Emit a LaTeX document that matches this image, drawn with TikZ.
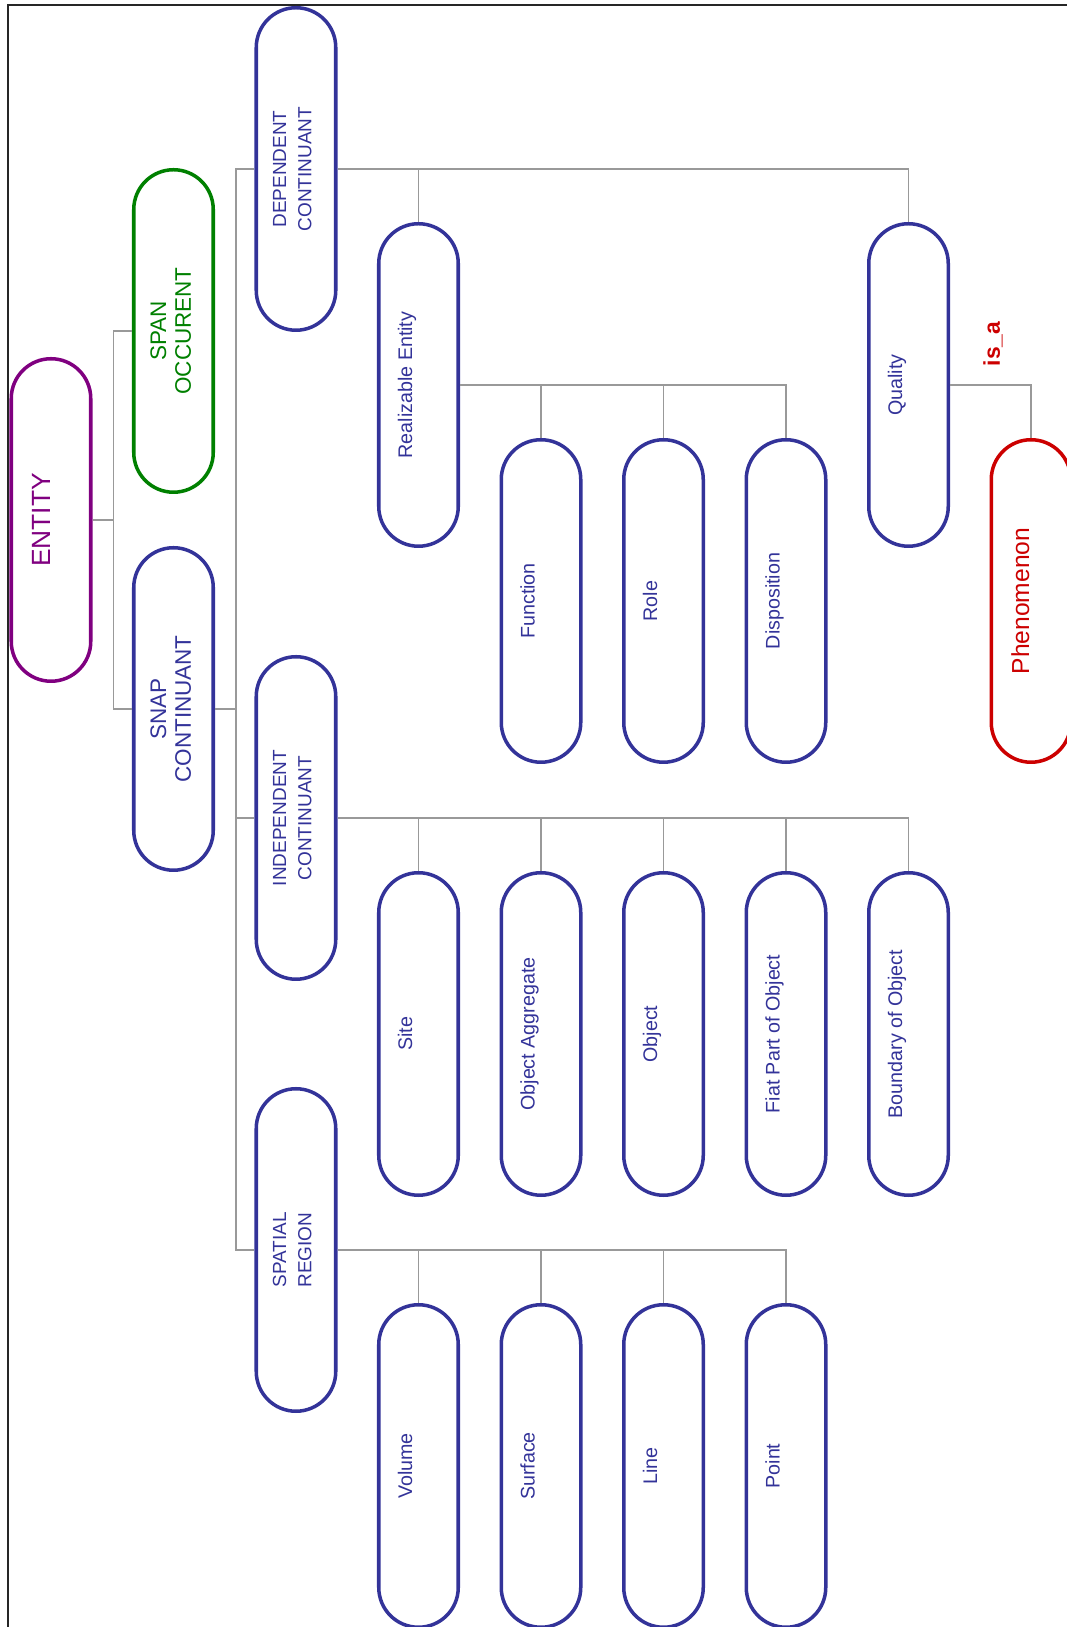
\documentclass[tikz,border=0pt]{standalone}
\usepackage{fontspec}
\setmainfont{Liberation Sans}
\usepackage{graphicx}
\definecolor{ontoblue}{HTML}{333399}
\definecolor{ontogreen}{HTML}{008000}
\definecolor{ontopurple}{HTML}{800080}
\definecolor{ontored}{HTML}{CC0000}
\definecolor{linkgray}{HTML}{999999}

% rotated text for the pills, optional raise in the text frame
\newcommand{\vlabel}[2][0pt]{\rotatebox{90}{\raisebox{#1}[\height][\depth]{\begin{tabular}{@{}c@{}}#2\end{tabular}}}}

\begin{document}
\begin{tikzpicture}[
  pill/.style={rectangle, rounded corners=0.795cm, draw=#1, text=#1, fill=white,
    line width=2pt, minimum width=1.59cm, minimum height=6.45cm, inner sep=0pt},
  pill/.default=ontoblue,
  topbox/.style={pill=#1, font=\fontsize{12.8}{14.2}\selectfont},
  topbox/.default=ontoblue,
  branch/.style={pill, font=\fontsize{10.8}{14.4}\selectfont},
  leaf/.style={pill, font=\fontsize{11.2}{13.4}\selectfont},
  link/.style={draw=linkgray, line width=0.9pt}
]

% Page size and frame
\useasboundingbox (0,0) rectangle (21.34,32.54);
\clip (0,0) rectangle (21.34,32.54);
\draw[black!85, line width=0.9pt] (0.16,-1) rectangle (23,32.44);

% --- Root and first level ---
\node[pill=ontopurple, font=\fontsize{15}{18}\selectfont] (entity) at (1.02,22.14) {\vlabel[4pt]{ENTITY}};
\node[topbox=ontogreen] (span) at (3.47,25.92) {\vlabel{SPAN\\OCCURENT}};
\node[topbox] (snap) at (3.47,18.36) {\vlabel{SNAP\\CONTINUANT}};

% --- Continuants ---
\node[branch] (dc) at (5.92,29.16) {\vlabel[1.3pt]{DEPENDENT\\CONTINUANT}};
\node[branch] (ic) at (5.92,16.18) {\vlabel[1.3pt]{INDEPENDENT\\CONTINUANT}};
\node[branch] (sr) at (5.92,7.54) {\vlabel[1.3pt]{SPATIAL\\REGION}};

% Dependent continuant children
\node[leaf] (real) at (8.37,24.84) {\vlabel[6.3pt]{Realizable Entity}};
\node[leaf] (quality) at (18.17,24.84) {\vlabel[6.3pt]{Quality}};
\node[leaf] (func) at (10.82,20.52) {\vlabel[6.3pt]{Function}};
\node[leaf] (role) at (13.27,20.52) {\vlabel[6.3pt]{Role}};
\node[leaf] (disp) at (15.72,20.52) {\vlabel[6.3pt]{Disposition}};
\node[pill=ontored, font=\fontsize{14}{16.8}\selectfont] (phen) at (20.62,20.52) {\vlabel[4.5pt]{Phenomenon}};
\node[font=\bfseries\fontsize{13}{15}\selectfont, text=ontored, rotate=90] (isa) at (19.86,25.66) {is\_a};

% Independent continuant children
\node[leaf] (site) at (8.37,11.86) {\vlabel[6.3pt]{Site}};
\node[leaf] (objagg) at (10.82,11.86) {\vlabel[6.3pt]{Object Aggregate}};
\node[leaf] (obj) at (13.27,11.86) {\vlabel[6.3pt]{Object}};
\node[leaf] (fiat) at (15.72,11.86) {\vlabel[6.3pt]{Fiat Part of Object}};
\node[leaf] (bound) at (18.17,11.86) {\vlabel[6.3pt]{Boundary of Object}};

% Spatial region children
\node[leaf] (volume) at (8.37,3.22) {\vlabel[6.3pt]{Volume}};
\node[leaf] (surface) at (10.82,3.22) {\vlabel[6.3pt]{Surface}};
\node[leaf] (line) at (13.27,3.22) {\vlabel[6.3pt]{Line}};
\node[leaf] (point) at (15.72,3.22) {\vlabel[6.3pt]{Point}};

% --- Connectors ---
\draw[link] (entity.east) -- ++(0.42,0) coordinate (etrunk);
\draw[link] (span.west) -| (etrunk) |- (snap.west);
\draw[link] (snap.east) -- ++(0.425,0) coordinate (strunk);
\draw[link] (dc.west) -| (strunk) |- (sr.west);
\draw[link] (strunk) |- (ic.west);

\draw[link] (dc.east) -| (quality.north);
\draw[link] (real.north) -- (real.north |- dc.east);
\draw[link] (real.east) -| (disp.north);
\draw[link] (func.north) -- (func.north |- real.east);
\draw[link] (role.north) -- (role.north |- real.east);
\draw[link] (quality.east) -| (phen.north);

\draw[link] (ic.east) -| (bound.north);
\draw[link] (site.north) -- (site.north |- ic.east);
\draw[link] (objagg.north) -- (objagg.north |- ic.east);
\draw[link] (obj.north) -- (obj.north |- ic.east);
\draw[link] (fiat.north) -- (fiat.north |- ic.east);

\draw[link] (sr.east) -| (point.north);
\draw[link] (volume.north) -- (volume.north |- sr.east);
\draw[link] (surface.north) -- (surface.north |- sr.east);
\draw[link] (line.north) -- (line.north |- sr.east);

\end{tikzpicture}
\end{document}
